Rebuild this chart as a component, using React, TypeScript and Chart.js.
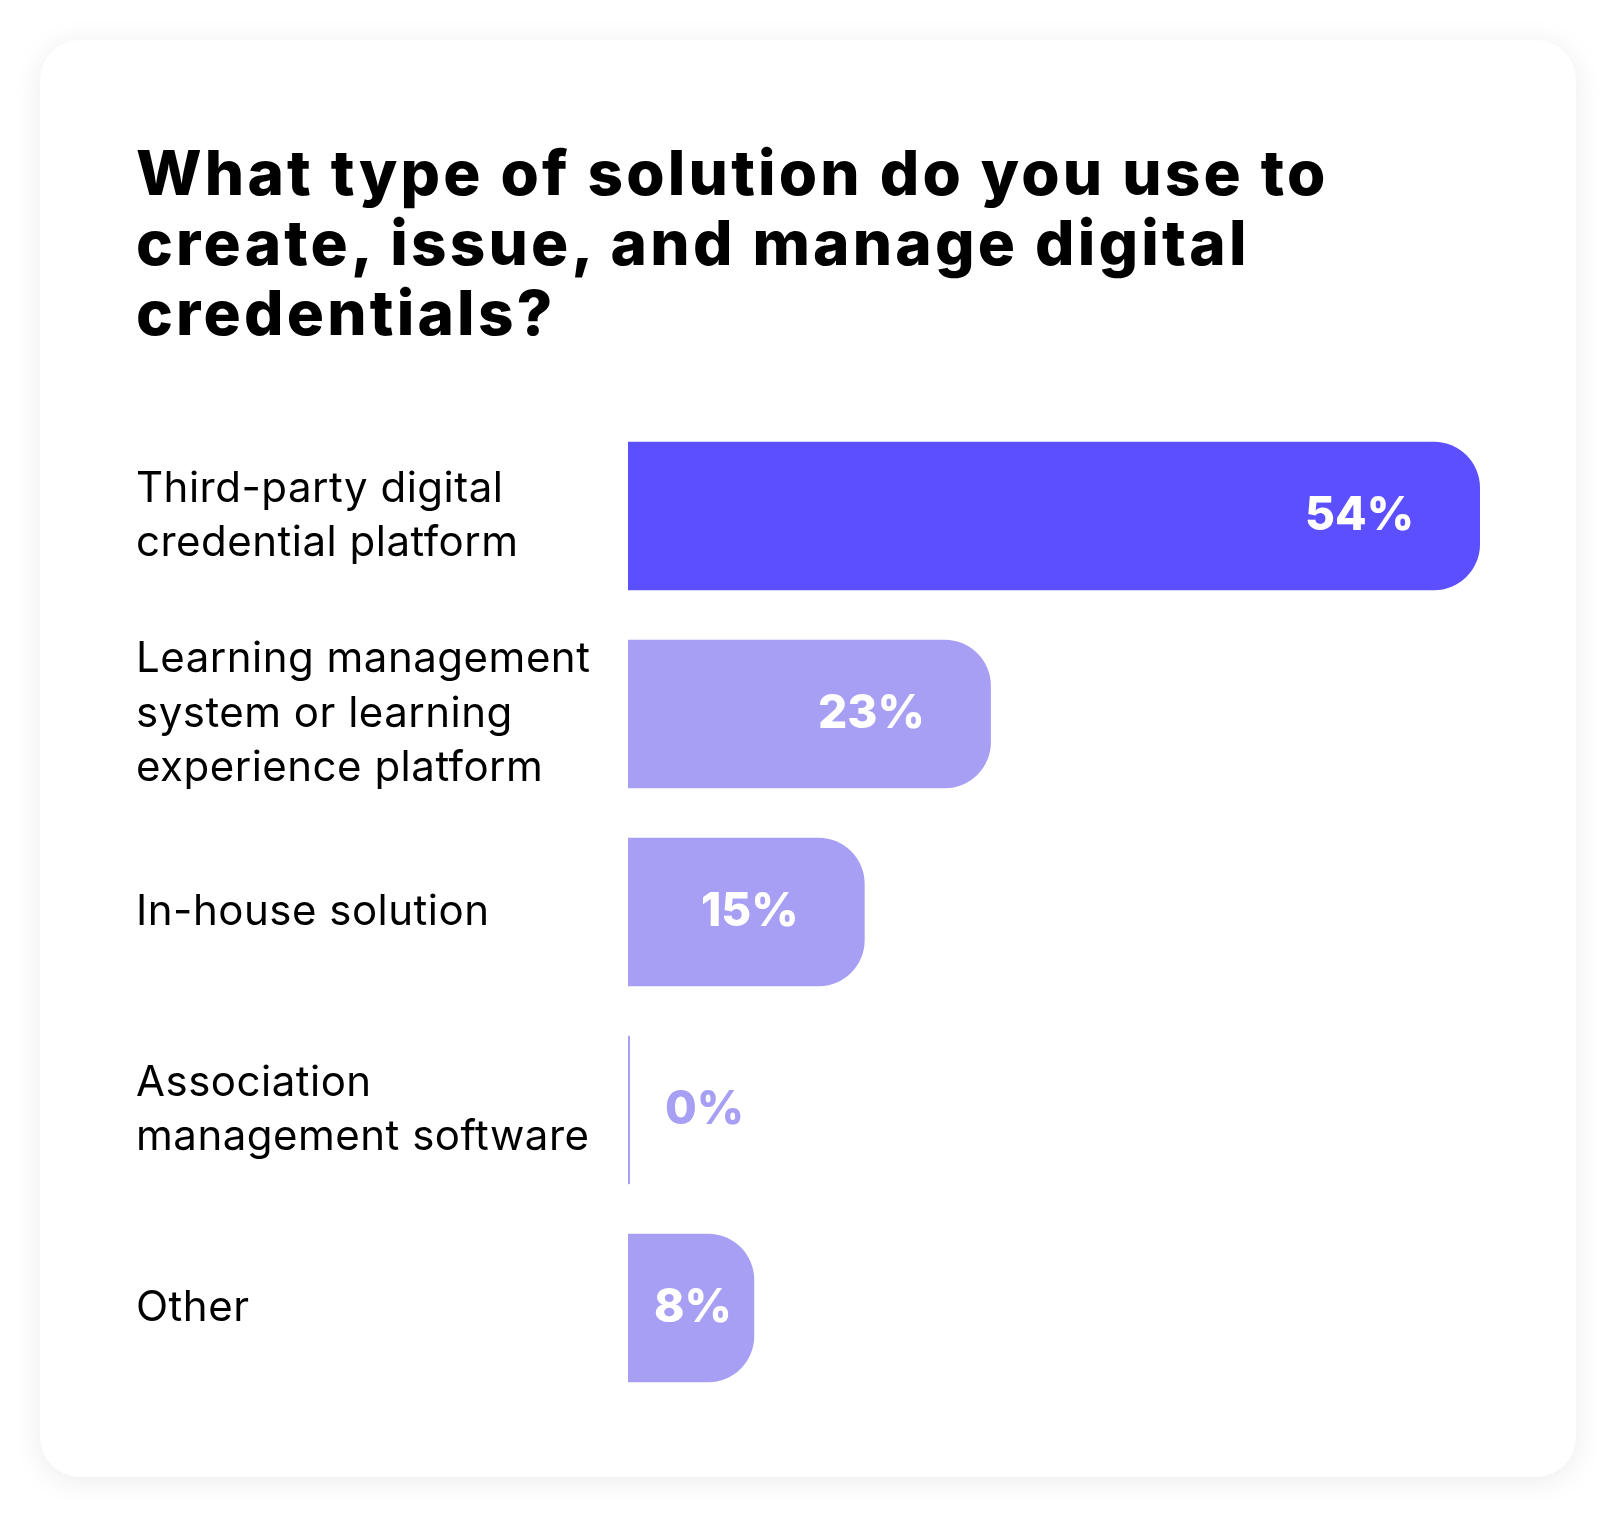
import { useEffect, useRef } from "react";
import { Chart, registerables, type ChartConfiguration, type Plugin } from "chart.js";

Chart.register(...registerables);

// Survey answers (multi-line labels as drawn in the reference)
const categories: string[][] = [
  ["Third-party digital", "credential platform"],
  ["Learning management", "system or learning", "experience platform"],
  ["In-house solution"],
  ["Association", "management software"],
  ["Other"],
];
const shares = [54, 23, 15, 0, 8];
const barColors = ["#5b4fff", "#a69ff4", "#a69ff4", "#a69ff4", "#a69ff4"];
const titleLines = [
  "What type of solution do you use to",
  "create, issue, and manage digital",
  "credentials?",
];

const LIGHT = "#a69ff4";

// slightly wider tick lettering, closer to the original typeface
const tickSpacing: Plugin<"bar"> = {
  id: "tickSpacing",
  beforeDraw(chart) {
    (chart.ctx as any).letterSpacing = "0.5px";
  },
};

// Percent labels drawn inside (or next to) each bar
const valueLabels: Plugin<"bar"> = {
  id: "valueLabels",
  afterDatasetsDraw(chart) {
    const { ctx } = chart;
    const meta = chart.getDatasetMeta(0);
    ctx.save();
    (ctx as any).letterSpacing = "0px";
    ctx.font = "800 46px Inter";
    ctx.textBaseline = "middle";
    meta.data.forEach((bar, i) => {
      const v = shares[i];
      const text = `${v}%`;
      const { x, y, base } = bar.getProps(["x", "y", "base"], true) as any;
      const w = ctx.measureText(text).width;
      if (v === 0) {
        ctx.fillStyle = LIGHT;
        ctx.textAlign = "left";
        ctx.fillText(text, base + 37, y);
      } else if (x - base - 66 - w >= 26) {
        ctx.fillStyle = "#ffffff";
        ctx.textAlign = "right";
        ctx.fillText(text, x - 66, y);
      } else {
        ctx.fillStyle = "#ffffff";
        ctx.textAlign = "left";
        ctx.fillText(text, base + 26, y);
      }
    });
    ctx.restore();
  },
};

function BarChart() {
  const canvasRef = useRef<HTMLCanvasElement>(null);
  const chartRef = useRef<Chart | null>(null);

  useEffect(() => {
    if (!canvasRef.current) return;
    const ctx = canvasRef.current.getContext("2d");
    if (!ctx) return;

    if (chartRef.current) chartRef.current.destroy();

    const config: ChartConfiguration<"bar"> = {
      type: "bar",
      data: {
        labels: categories as any,
        datasets: [
          {
            data: shares,
            backgroundColor: barColors,
            borderWidth: 0,
            borderSkipped: false,
            borderRadius: { topLeft: 0, bottomLeft: 0, topRight: 46, bottomRight: 46 },
            minBarLength: 2,
            barPercentage: 0.75,
            categoryPercentage: 1,
          },
        ],
      },
      options: {
        indexAxis: "y",
        animation: false,
        responsive: true,
        maintainAspectRatio: false,
        layout: { padding: 0 },
        plugins: {
          legend: { display: false },
          tooltip: { enabled: false },
          title: { display: false },
        },
        scales: {
          x: {
            display: false,
            min: 0,
            max: 54,
            grid: { display: false },
          },
          y: {
            border: { display: false },
            grid: { display: false },
            ticks: {
              crossAlign: "far",
              color: "#000000",
              padding: 0,
              font: { family: "Inter", size: 42, weight: 400, lineHeight: 1.29 },
            },
            afterFit(scale) {
              scale.width = 492;
              scale.paddingTop = 0;
              scale.paddingBottom = 0;
            },
          },
        },
      },
      plugins: [tickSpacing, valueLabels],
    };

    chartRef.current = new Chart(ctx, config);

    return () => {
      if (chartRef.current) {
        chartRef.current.destroy();
        chartRef.current = null;
      }
    };
  }, []);

  return (
    <div style={{ position: "absolute", left: 96, top: 377, width: 1344, height: 990 }}>
      <canvas ref={canvasRef} />
    </div>
  );
}

export default function App() {
  return (
    <div
      style={{
        position: "absolute",
        left: 0,
        top: 0,
        width: 1616,
        height: 1518,
        background: "#ffffff",
        overflow: "hidden",
      }}
    >
      <div
        style={{
          position: "absolute",
          left: 40,
          top: 40,
          width: 1536,
          height: 1437,
          background: "#ffffff",
          borderRadius: 40,
          boxShadow: "0 4px 30px rgba(0,0,0,0.08)",
        }}
      >
        <div
          style={{
            position: "absolute",
            left: 96,
            top: 98,
            fontFamily: "Inter, sans-serif",
            fontWeight: 800,
            fontSize: 62,
            lineHeight: "70px",
            color: "#000000",
            whiteSpace: "nowrap",
            letterSpacing: "3.2px",
          }}
        >
          {titleLines.map((line) => (
            <div key={line}>{line}</div>
          ))}
        </div>
        <BarChart />
      </div>
    </div>
  );
}
